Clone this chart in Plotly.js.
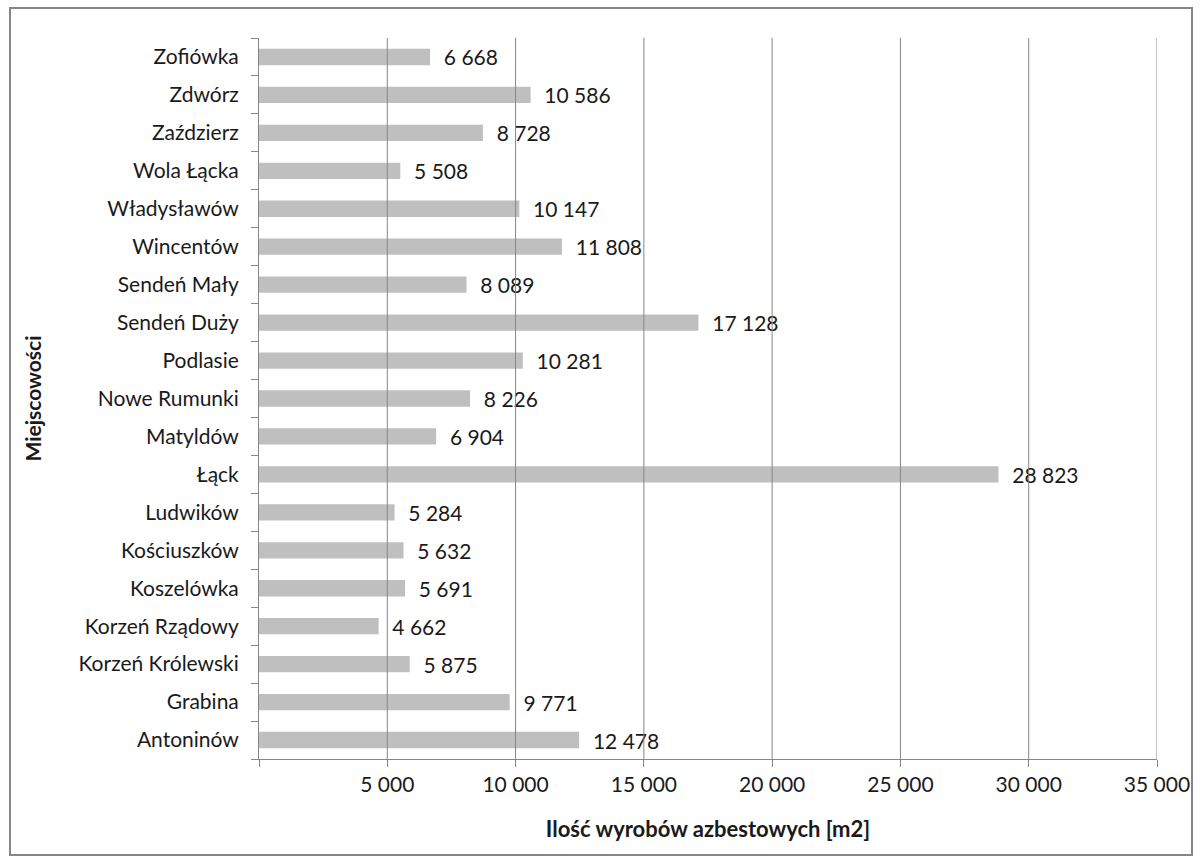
<!DOCTYPE html>
<html>
<head>
<meta charset="utf-8">
<script src="https://cdn.plot.ly/plotly-3.0.1.min.js"></script>
<style>
html,body{margin:0;padding:0;background:#fff;}
#chart{width:1202px;height:863px;}
</style>
</head>
<body>
<div id="chart"></div>
<script>
const categories = ["Antoninów","Grabina","Korzeń Królewski","Korzeń Rządowy","Koszelówka","Kościuszków","Ludwików","Łąck","Matyldów","Nowe Rumunki","Podlasie","Sendeń Duży","Sendeń Mały","Wincentów","Władysławów","Wola Łącka","Zaździerz","Zdwórz","Zofiówka"];
const values = [12478,9771,5875,4662,5691,5632,5284,28823,6904,8226,10281,17128,8089,11808,10147,5508,8728,10586,6668];
const xTickVals = [0,5000,10000,15000,20000,25000,30000,35000];
const xTickText = ["","5 000","10 000","15 000","20 000","25 000","30 000","35 000"];

const font = "Lato, 'Open Sans', sans-serif";
const txt = '#1a1a1a';
const trace = {
  type: 'bar',
  orientation: 'h',
  x: values,
  y: categories,
  marker: {color: '#bfbfbf', line: {width: 0}},
  texttemplate: '\u00a0\u00a0%{x:,}',
  textposition: 'outside',
  constraintext: 'none',
  textfont: {family: font, size: 21, color: txt},
  cliponaxis: false,
  hoverinfo: 'skip'
};
// vertical gridlines drawn above the bars, positioned by the x axis
const gridShapes = xTickVals.slice(1).map(v => ({
  type: 'line', xref: 'x', yref: 'paper', x0: v, x1: v, y0: 0, y1: 1,
  line: {color: '#868686', width: 1}, layer: 'above'
}));
const layout = {
  width: 1202, height: 863,
  margin: {l: 259, r: 45, t: 38, b: 104},
  paper_bgcolor: '#fff', plot_bgcolor: '#fff',
  separators: ', ',
  bargap: 0.57,
  showlegend: false,
  font: {family: font, size: 21, color: txt},
  xaxis: {
    range: [0, 35000],
    tickvals: xTickVals, ticktext: xTickText,
    showgrid: false,
    showline: true, linecolor: '#868686', linewidth: 1,
    ticks: 'outside', ticklen: 7, tickcolor: '#868686',
    tickfont: {family: font, size: 21, color: txt},
    zeroline: false,
    title: {text: '<b>Ilość wyrobów azbestowych [m2]</b>', font: {family: font, size: 22, color: txt}, standoff: 26}
  },
  yaxis: {
    type: 'category',
    categoryorder: 'array', categoryarray: categories,
    showline: true, linecolor: '#868686', linewidth: 1,
    ticks: 'outside', ticklen: 7, tickcolor: '#868686',
    tickson: 'boundaries',
    ticklabelstandoff: 15,
    tickfont: {family: font, size: 21, color: txt},
    showgrid: false, zeroline: false,
    title: {text: '<b>Miejscowości</b>', font: {family: font, size: 21, color: txt}, standoff: 31}
  },
  shapes: gridShapes.concat([{
    type: 'rect', xref: 'paper', yref: 'paper',
    x0: (10 - 259) / 898, x1: (1192 - 259) / 898,
    y0: -(855 - 759) / 721, y1: 1 + (38 - 8) / 721,
    line: {color: '#868686', width: 2}, fillcolor: 'rgba(0,0,0,0)', layer: 'below'
  }])
};
Plotly.newPlot('chart', [trace], layout, {displayModeBar: false, staticPlot: true});
</script>
</body>
</html>
